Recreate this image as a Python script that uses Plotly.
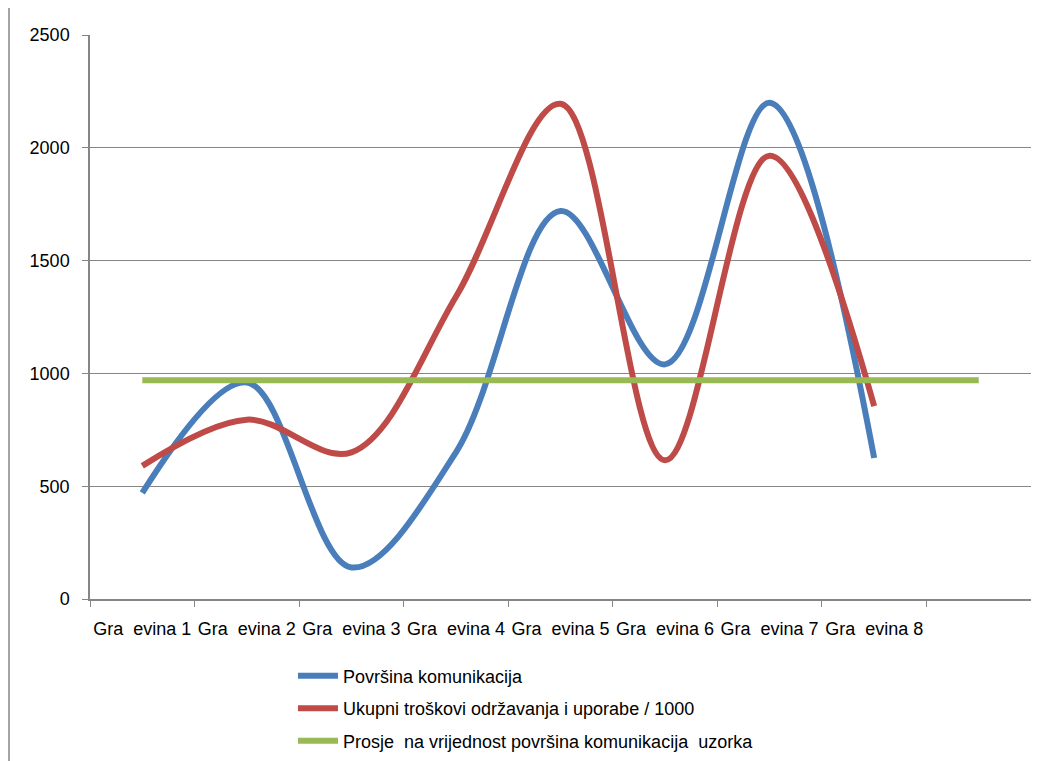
import plotly.graph_objects as go

categories = ["Gra\u00a0 evina 1", "Gra\u00a0 evina 2", "Gra\u00a0 evina 3", "Gra\u00a0 evina 4",
              "Gra\u00a0 evina 5", "Gra\u00a0 evina 6", "Gra\u00a0 evina 7", "Gra\u00a0 evina 8", ""]
x_pos = [1, 2, 3, 4, 5, 6, 7, 8, 9]

povrsina = [470, 960, 140, 650, 1720, 1040, 2200, 625]
troskovi = [590, 795, 650, 1340, 2195, 615, 1965, 855]
prosjek = [970, 970, 970, 970, 970, 970, 970, 970, 970]

names = ["Površina komunikacija",
         "Ukupni troškovi održavanja i uporabe / 1000",
         "Prosje\u00a0 na vrijednost površina komunikacija\u00a0 uzorka"]
colors = ["#4A7EBB", "#BE4B48", "#98B954"]

fig = go.Figure()
fig.add_trace(go.Scatter(x=x_pos[:8], y=povrsina, mode="lines", name=names[0],
                         line=dict(color=colors[0], width=6, shape="spline", smoothing=1.0),
                         legendgroup="a"))
fig.add_trace(go.Scatter(x=x_pos[:8], y=troskovi, mode="lines", name=names[1],
                         line=dict(color=colors[1], width=6, shape="spline", smoothing=1.0),
                         legendgroup="b"))
fig.add_trace(go.Scatter(x=x_pos, y=prosjek, mode="lines", name=names[2],
                         line=dict(color=colors[2], width=6),
                         legendgroup="c"))

font = "Liberation Sans, Arial, sans-serif"
fig.update_layout(
    width=1031, height=753,
    margin=dict(l=82, r=8, t=27, b=162, autoexpand=False),
    paper_bgcolor="white", plot_bgcolor="white",
    font=dict(family=font, size=18, color="#000000"),
    showlegend=True,
    legend=dict(x=0.2157, y=-0.104, xanchor="left", yanchor="top",
                orientation="v", tracegroupgap=6, itemwidth=40,
                font=dict(family=font, size=18, color="#000000"),
                bgcolor="rgba(0,0,0,0)"),
    xaxis=dict(range=[0.5, 9.5], tickmode="array", tickvals=x_pos, ticktext=categories,
               ticks="", showgrid=False, zeroline=False, showline=True, automargin=False,
               linecolor="#868686", linewidth=1.5, ticklabelstandoff=13,
               tickfont=dict(family=font, size=18, color="#000000"),
               minor=dict(tickmode="array", tickvals=[0.5 + i for i in range(10)],
                          ticks="outside", ticklen=6, tickcolor="#868686", tickwidth=1.2,
                          showgrid=False)),
    yaxis=dict(range=[0, 2500], tickmode="array", tickvals=[0, 500, 1000, 1500, 2000, 2500],
               ticks="outside", ticklen=6, tickcolor="#868686", tickwidth=1.2,
               showgrid=True, gridcolor="#868686", gridwidth=1.2, automargin=False,
               zeroline=False, showline=True, linecolor="#868686", linewidth=1.5,
               ticklabelstandoff=9,
               tickfont=dict(family=font, size=18, color="#000000")),
)

fig.add_shape(type="line", xref="paper", yref="paper",
              x0=-81 / 941, x1=-81 / 941, y0=-162 / 564, y1=1 + 27 / 564,
              line=dict(color="#868686", width=1.5))

fig.write_html("out.html")
